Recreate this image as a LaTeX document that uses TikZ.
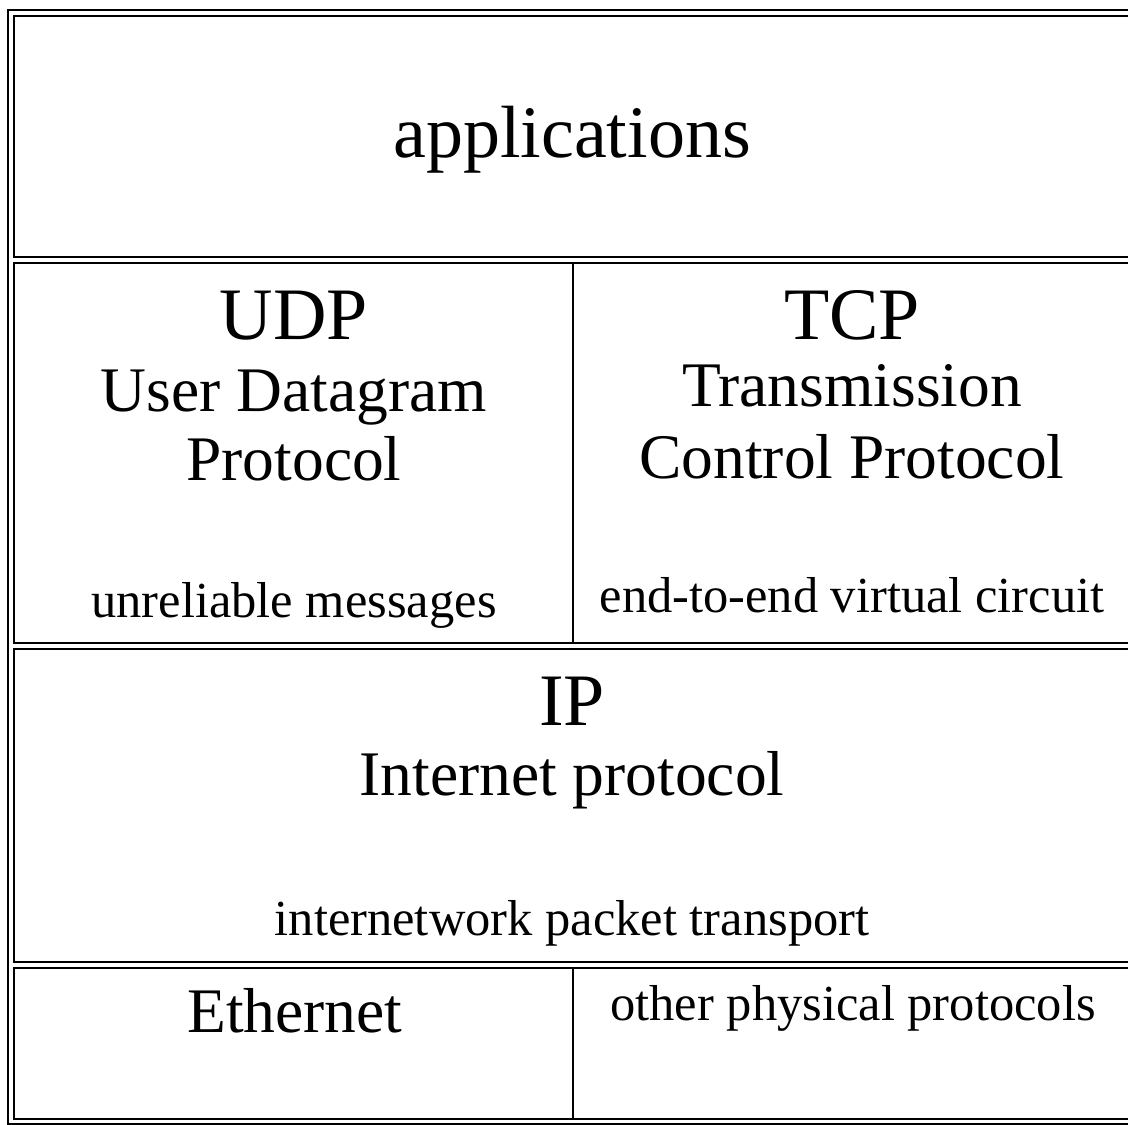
\documentclass[tikz,border=0pt]{standalone}
\usepackage{fontspec}
\setmainfont{Liberation Serif}
\usepackage{tikz}

\begin{document}
\begin{tikzpicture}[x=1pt,y=-1pt,
	frame/.style={black,line width=2pt},
	big/.style={anchor=base,inner sep=0pt,font=\fontsize{74}{80}\selectfont},
	mid/.style={anchor=base,inner sep=0pt,font=\fontsize{63.5}{70}\selectfont},
	small/.style={anchor=base,inner sep=0pt,font=\fontsize{50.5}{56}\selectfont}]
\clip (0,0) rectangle (1128,1125);
\fill[white] (0,0) rectangle (1128,1125);

\draw[frame] (8,10) rectangle (1137,1124);
\draw[frame] (13.5,15.5) rectangle (1131,257);
\draw[frame] (13.5,263) rectangle (1131,643);
\draw[frame] (573,263) -- (573,643);
\draw[frame] (13.5,649) rectangle (1131,962);
\draw[frame] (13.5,968) rectangle (1131,1119);
\draw[frame] (573,968) -- (573,1119);

\node[big] (apps) at (572,157) {applications};

\node[big] (udp) at (294,339) {UDP};
\node[mid] (udpa) at (294,411) {User Datagram};
\node[mid] (udpb) at (294,480) {Protocol};
\node[small] (udpc) at (294,617) {unreliable messages};

\node[big] (tcp) at (852,339) {TCP};
\node[mid] (tcpa) at (852,406) {Transmission};
\node[mid] (tcpb) at (852,478) {Control Protocol};
\node[small] (tcpc) at (852,612) {end-to-end virtual circuit};

\node[big] (ip) at (572,725) {IP};
\node[mid] (ipa) at (572,795) {Internet protocol};
\node[small] (ipb) at (572,935) {internetwork packet transport};

\node[mid] (eth) at (295,1032) {Ethernet};
\node[small] (phys) at (853,1020) {other physical protocols};

\end{tikzpicture}
\end{document}
